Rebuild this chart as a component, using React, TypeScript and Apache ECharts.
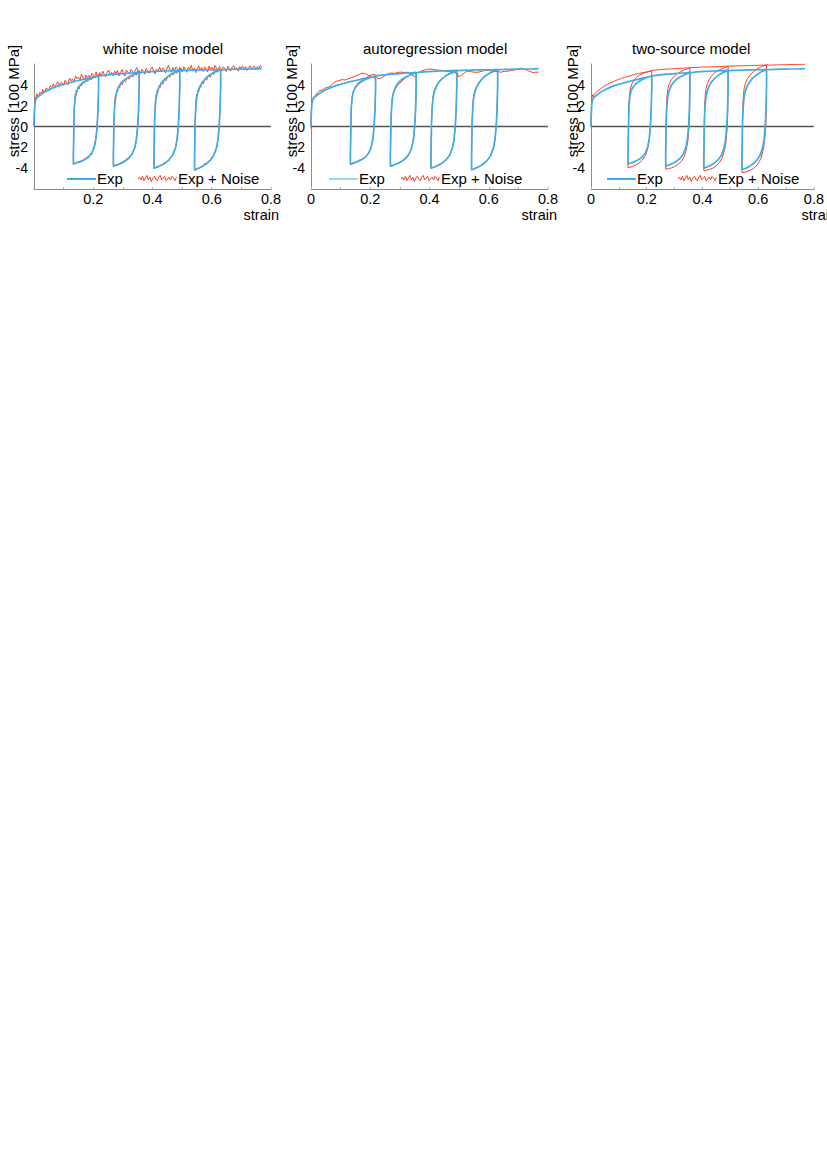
import React, { useEffect, useRef } from 'react';
import * as echarts from 'echarts';

// ---------- texts ----------
const TITLES = ['white noise model', 'autoregression model', 'two-source model'];
const Y_NAME = 'stress [100 MPa]';
const X_NAME = 'strain';
const LEGEND_EXP = 'Exp';
const LEGEND_NOISE = 'Exp + Noise';

// ---------- experimental curve (strain, stress [100 MPa]) ----------
const EXP: number[][] = [
  [0, 0], [0.001, 1.2], [0.003, 2.2], [0.006, 2.6], [0.012, 2.82], [0.02, 3.0], [0.035, 3.3], [0.05, 3.52],
  [0.07, 3.78], [0.09, 3.97], [0.11, 4.13], [0.13, 4.28], [0.15, 4.42], [0.17, 4.55], [0.19, 4.67], [0.205, 4.76], [0.218, 4.84],
  [0.218, 3.6], [0.216, 1.6], [0.213, 0.0], [0.209, -1.2], [0.203, -2.0], [0.195, -2.55], [0.183, -2.95], [0.17, -3.2],
  [0.157, -3.37], [0.145, -3.48], [0.136, -3.56], [0.133, -3.6],
  [0.133, -2.6], [0.134, -1.0], [0.135, 0.6], [0.136, 1.8], [0.139, 2.8], [0.143, 3.35], [0.15, 3.75], [0.16, 4.08],
  [0.173, 4.35], [0.188, 4.57], [0.203, 4.73], [0.218, 4.86],
  [0.24, 4.94], [0.265, 5.01], [0.29, 5.06], [0.315, 5.11], [0.34, 5.16], [0.355, 5.19],
  [0.355, 3.7], [0.353, 1.6], [0.35, 0.0], [0.346, -1.2], [0.34, -2.05], [0.331, -2.65], [0.319, -3.07], [0.306, -3.35],
  [0.293, -3.54], [0.281, -3.68], [0.272, -3.76], [0.268, -3.8],
  [0.268, -2.7], [0.269, -1.0], [0.27, 0.6], [0.272, 1.8], [0.275, 2.75], [0.28, 3.4], [0.287, 3.88], [0.296, 4.25],
  [0.308, 4.55], [0.322, 4.8], [0.338, 5.0], [0.355, 5.16],
  [0.38, 5.24], [0.41, 5.29], [0.44, 5.33], [0.47, 5.36], [0.492, 5.38],
  [0.492, 3.8], [0.49, 1.6], [0.487, 0.0], [0.483, -1.25], [0.477, -2.1], [0.468, -2.75], [0.456, -3.2], [0.443, -3.5],
  [0.43, -3.72], [0.418, -3.87], [0.409, -3.96], [0.405, -4.0],
  [0.405, -2.8], [0.406, -1.0], [0.407, 0.6], [0.409, 1.8], [0.412, 2.75], [0.417, 3.4], [0.424, 3.9], [0.433, 4.3],
  [0.445, 4.65], [0.459, 4.95], [0.475, 5.2], [0.492, 5.36],
  [0.51, 5.39], [0.54, 5.41], [0.57, 5.43], [0.6, 5.45], [0.63, 5.47],
  [0.63, 3.8], [0.628, 1.6], [0.625, 0.0], [0.621, -1.3], [0.615, -2.15], [0.606, -2.8], [0.594, -3.28], [0.581, -3.6],
  [0.568, -3.83], [0.556, -4.0], [0.547, -4.1], [0.542, -4.15],
  [0.542, -2.9], [0.543, -1.0], [0.544, 0.6], [0.546, 1.8], [0.549, 2.75], [0.554, 3.4], [0.561, 3.9], [0.57, 4.3],
  [0.582, 4.7], [0.596, 5.0], [0.612, 5.27], [0.63, 5.45],
  [0.66, 5.48], [0.69, 5.5], [0.72, 5.52], [0.75, 5.54], [0.768, 5.56],
];

// ---------- Exp + white noise ----------
const NOISE_WHITE: number[][] = [
  [0, 0], [0.002, 1.9], [0.004, 2.8], [0.007, 2.8], [0.01, 3.15], [0.015, 2.85], [0.02, 3.3], [0.025, 3.15], [0.03, 3.55],
  [0.035, 3.2], [0.04, 3.65], [0.045, 3.63], [0.05, 3.4], [0.055, 3.92], [0.06, 3.78], [0.065, 4.09], [0.07, 3.75],
  [0.075, 4.05], [0.08, 4.29], [0.085, 3.93], [0.09, 4.22], [0.095, 4.16], [0.1, 3.95], [0.105, 4.44], [0.11, 4.23],
  [0.115, 4.02], [0.12, 4.65], [0.125, 4.39], [0.13, 4.57], [0.135, 4.26], [0.14, 4.84], [0.145, 4.57], [0.15, 4.75],
  [0.155, 4.43], [0.16, 5.01], [0.165, 4.74], [0.17, 4.47], [0.175, 4.95], [0.18, 4.68], [0.185, 4.91], [0.19, 4.53],
  [0.195, 5.11], [0.2, 4.93], [0.205, 4.86], [0.21, 5.24], [0.215, 4.77], [0.218, 5.04],
  [0.218, 3.6], [0.216, 1.6], [0.213, 0.0], [0.209, -1.1], [0.205, -1.8], [0.202, -2.1], [0.198, -2.3], [0.194, -2.7],
  [0.19, -2.6], [0.186, -2.95], [0.182, -2.85], [0.178, -3.1], [0.172, -3.05], [0.166, -3.3], [0.16, -3.25], [0.154, -3.45],
  [0.148, -3.35], [0.142, -3.55], [0.137, -3.5], [0.133, -3.65],
  [0.133, -2.6], [0.134, -1.0], [0.135, 0.6], [0.136, 1.8], [0.138, 2.6], [0.139, 3.1], [0.141, 2.9], [0.143, 3.5],
  [0.146, 3.3], [0.149, 3.85], [0.152, 3.6], [0.156, 4.05], [0.16, 3.9], [0.165, 4.3], [0.17, 4.15], [0.176, 4.5],
  [0.182, 4.35], [0.188, 4.7], [0.194, 4.5], [0.2, 4.85], [0.206, 4.65], [0.212, 4.95], [0.218, 4.8],
  [0.222, 5.18], [0.227, 4.8], [0.232, 5.32], [0.237, 5.03], [0.242, 4.75], [0.247, 5.21], [0.252, 5.42], [0.257, 4.94],
  [0.262, 5.2], [0.267, 4.86], [0.272, 5.32], [0.277, 5.08], [0.282, 5.39], [0.287, 4.85], [0.292, 5.21], [0.297, 5.47],
  [0.302, 5.08], [0.307, 4.84], [0.312, 5.4], [0.317, 5.21], [0.322, 5.02], [0.327, 5.48], [0.332, 5.29], [0.337, 5.0],
  [0.342, 5.41], [0.347, 5.67], [0.352, 5.23], [0.355, 5.39],
  [0.355, 3.7], [0.353, 1.6], [0.35, 0.0], [0.346, -1.1], [0.342, -1.9], [0.338, -2.2], [0.334, -2.45], [0.33, -2.75],
  [0.325, -2.8], [0.32, -3.1], [0.314, -3.05], [0.308, -3.35], [0.302, -3.3], [0.296, -3.55], [0.29, -3.5], [0.284, -3.7],
  [0.278, -3.65], [0.273, -3.8], [0.268, -3.85],
  [0.268, -2.7], [0.269, -1.0], [0.27, 0.6], [0.272, 1.8], [0.273, 2.6], [0.275, 3.0], [0.277, 2.85], [0.279, 3.45],
  [0.282, 3.3], [0.285, 3.85], [0.289, 3.7], [0.293, 4.2], [0.298, 4.0], [0.303, 4.45], [0.309, 4.3], [0.315, 4.7],
  [0.321, 4.55], [0.327, 4.95], [0.333, 4.75], [0.339, 5.1], [0.345, 4.9], [0.35, 5.3], [0.355, 5.1],
  [0.359, 5.1], [0.364, 5.51], [0.369, 5.27], [0.374, 5.03], [0.379, 5.59], [0.384, 5.35], [0.389, 5.11], [0.394, 5.51],
  [0.399, 5.72], [0.404, 5.28], [0.409, 5.04], [0.414, 5.5], [0.419, 5.35], [0.424, 5.71], [0.429, 5.22], [0.434, 5.63],
  [0.439, 5.48], [0.444, 5.14], [0.449, 5.59], [0.454, 5.9], [0.459, 5.45], [0.464, 5.21], [0.469, 5.66], [0.474, 5.32],
  [0.479, 5.72], [0.484, 5.58], [0.489, 5.28], [0.492, 5.68],
  [0.492, 3.8], [0.49, 1.6], [0.487, 0.0], [0.483, -1.15], [0.479, -1.95], [0.475, -2.3], [0.471, -2.55], [0.466, -2.85],
  [0.461, -2.95], [0.456, -3.25], [0.45, -3.3], [0.444, -3.55], [0.438, -3.5], [0.432, -3.75], [0.426, -3.7], [0.42, -3.9],
  [0.414, -3.85], [0.409, -4.0], [0.405, -4.05],
  [0.405, -2.8], [0.406, -1.0], [0.407, 0.6], [0.409, 1.8], [0.41, 2.6], [0.412, 3.05], [0.414, 2.9], [0.416, 3.5],
  [0.419, 3.35], [0.422, 3.9], [0.426, 3.75], [0.43, 4.25], [0.435, 4.05], [0.44, 4.55], [0.446, 4.4], [0.452, 4.85],
  [0.458, 4.7], [0.464, 5.1], [0.47, 4.95], [0.476, 5.3], [0.482, 5.1], [0.487, 5.45], [0.492, 5.3],
  [0.496, 5.59], [0.501, 5.24], [0.506, 5.74], [0.511, 5.45], [0.516, 5.2], [0.521, 5.7], [0.526, 5.51], [0.531, 5.86],
  [0.536, 5.31], [0.541, 5.61], [0.546, 5.17], [0.551, 5.57], [0.556, 5.82], [0.561, 5.43], [0.566, 5.68], [0.571, 5.28],
  [0.576, 5.74], [0.581, 5.54], [0.586, 5.24], [0.591, 5.8], [0.596, 5.5], [0.601, 5.7], [0.606, 5.35], [0.611, 5.86],
  [0.616, 5.61], [0.621, 5.31], [0.626, 5.77], [0.63, 5.57],
  [0.63, 3.8], [0.628, 1.6], [0.625, 0.0], [0.621, -1.2], [0.617, -2.0], [0.613, -2.35], [0.609, -2.6], [0.604, -2.9],
  [0.599, -3.0], [0.594, -3.3], [0.588, -3.35], [0.582, -3.6], [0.576, -3.55], [0.57, -3.85], [0.564, -3.8], [0.558, -4.05],
  [0.552, -4.0], [0.547, -4.2], [0.542, -4.2],
  [0.542, -2.9], [0.543, -1.0], [0.544, 0.6], [0.546, 1.8], [0.547, 2.6], [0.549, 3.1], [0.551, 2.95], [0.553, 3.5],
  [0.556, 3.35], [0.559, 3.9], [0.563, 3.75], [0.567, 4.3], [0.572, 4.1], [0.577, 4.6], [0.583, 4.45], [0.589, 4.9],
  [0.595, 4.75], [0.601, 5.15], [0.607, 5.0], [0.613, 5.35], [0.619, 5.2], [0.625, 5.55], [0.63, 5.4],
  [0.634, 5.37], [0.639, 5.73], [0.644, 5.53], [0.649, 5.28], [0.654, 5.79], [0.659, 5.59], [0.664, 5.34], [0.669, 5.7],
  [0.674, 5.85], [0.679, 5.45], [0.684, 5.66], [0.689, 5.31], [0.694, 5.76], [0.699, 5.57], [0.704, 5.82], [0.709, 5.42],
  [0.714, 5.73], [0.719, 5.38], [0.724, 5.63], [0.729, 5.84], [0.734, 5.49], [0.739, 5.69], [0.744, 5.8], [0.749, 5.45],
  [0.754, 5.75], [0.759, 5.55], [0.764, 5.86], [0.768, 5.66],
];

// ---------- Exp + autoregressive noise ----------
const NOISE_AR: number[][] = [
  [0, -0.2], [0.001, 1.5], [0.003, 2.6], [0.008, 2.75], [0.015, 3.0], [0.022, 3.25], [0.03, 3.45], [0.038, 3.5],
  [0.045, 3.62], [0.052, 3.75], [0.06, 3.78], [0.068, 3.95], [0.076, 4.2], [0.085, 4.35], [0.094, 4.4], [0.104, 4.5],
  [0.114, 4.47], [0.124, 4.55], [0.133, 4.65], [0.142, 4.75], [0.151, 4.85], [0.16, 4.98], [0.168, 5.08], [0.176, 5.12],
  [0.184, 5.06], [0.192, 4.95], [0.2, 4.85], [0.207, 4.75], [0.213, 4.65], [0.218, 4.6],
  [0.218, 3.6], [0.216, 1.6], [0.213, 0.0], [0.209, -1.2], [0.203, -2.0], [0.196, -2.45], [0.188, -2.8], [0.18, -3.05],
  [0.172, -3.15], [0.164, -3.22], [0.156, -3.35], [0.148, -3.5], [0.14, -3.6], [0.133, -3.65],
  [0.133, -2.6], [0.134, -1.0], [0.135, 0.6], [0.136, 1.8], [0.139, 2.8], [0.143, 3.4], [0.15, 3.85], [0.158, 4.15],
  [0.167, 4.35], [0.177, 4.5], [0.188, 4.7], [0.198, 4.9], [0.208, 5.0], [0.218, 4.95],
  [0.225, 4.62], [0.232, 4.6], [0.24, 4.7], [0.248, 4.85], [0.256, 5.0], [0.264, 5.1], [0.272, 5.14], [0.28, 5.1],
  [0.288, 5.15], [0.296, 5.2], [0.305, 5.22], [0.314, 5.18], [0.322, 5.22], [0.33, 5.15], [0.338, 5.0], [0.345, 4.85],
  [0.35, 4.8], [0.355, 4.9],
  [0.355, 3.7], [0.353, 1.6], [0.35, 0.0], [0.346, -1.2], [0.34, -2.0], [0.333, -2.55], [0.325, -2.95], [0.316, -3.15],
  [0.307, -3.3], [0.298, -3.45], [0.289, -3.6], [0.28, -3.72], [0.273, -3.8], [0.268, -3.85],
  [0.268, -2.7], [0.269, -1.0], [0.27, 0.6], [0.272, 1.8], [0.274, 2.7], [0.278, 3.25], [0.284, 3.6], [0.291, 3.9],
  [0.3, 4.15], [0.31, 4.45], [0.32, 4.7], [0.331, 4.9], [0.343, 5.05], [0.355, 5.15],
  [0.362, 5.2], [0.37, 5.3], [0.378, 5.38], [0.386, 5.45], [0.394, 5.5], [0.402, 5.52], [0.41, 5.5], [0.418, 5.45],
  [0.426, 5.42], [0.434, 5.4], [0.442, 5.38], [0.45, 5.32], [0.458, 5.3], [0.466, 5.28], [0.474, 5.3], [0.482, 5.28],
  [0.488, 5.15], [0.492, 5.0],
  [0.492, 3.8], [0.49, 1.6], [0.487, 0.0], [0.483, -1.25], [0.477, -2.1], [0.469, -2.7], [0.46, -3.1], [0.451, -3.35],
  [0.442, -3.55], [0.433, -3.7], [0.424, -3.82], [0.415, -3.92], [0.409, -3.97], [0.405, -4.02],
  [0.405, -2.8], [0.406, -1.0], [0.407, 0.6], [0.409, 1.8], [0.411, 2.75], [0.415, 3.35], [0.421, 3.8], [0.429, 4.2],
  [0.439, 4.5], [0.45, 4.75], [0.462, 4.95], [0.474, 5.1], [0.484, 5.2], [0.492, 5.25],
  [0.498, 4.8], [0.504, 4.85], [0.51, 4.98], [0.518, 5.15], [0.526, 5.3], [0.534, 5.3], [0.542, 5.25], [0.55, 5.22],
  [0.56, 5.2], [0.57, 5.25], [0.58, 5.32], [0.59, 5.4], [0.6, 5.38], [0.61, 5.33], [0.62, 5.3], [0.63, 5.25],
  [0.63, 3.8], [0.628, 1.6], [0.625, 0.0], [0.621, -1.3], [0.615, -2.15], [0.607, -2.75], [0.598, -3.15], [0.589, -3.45],
  [0.58, -3.65], [0.571, -3.8], [0.562, -3.92], [0.553, -4.05], [0.547, -4.12], [0.542, -4.18],
  [0.542, -2.9], [0.543, -1.0], [0.544, 0.6], [0.546, 1.8], [0.548, 2.75], [0.552, 3.35], [0.558, 3.8], [0.566, 4.2],
  [0.576, 4.55], [0.587, 4.85], [0.599, 5.05], [0.611, 5.2], [0.621, 5.3], [0.63, 5.35],
  [0.638, 5.2], [0.646, 5.25], [0.654, 5.3], [0.662, 5.3], [0.67, 5.35], [0.678, 5.4], [0.686, 5.42], [0.694, 5.48],
  [0.702, 5.55], [0.71, 5.6], [0.718, 5.5], [0.726, 5.45], [0.734, 5.35], [0.742, 5.25], [0.75, 5.18], [0.758, 5.2],
  [0.768, 5.22],
];

// ---------- Exp + two-source noise ----------
const NOISE_TWO: number[][] = [
  [0, 0], [0.002, 2.4], [0.004, 3.05], [0.007, 2.85], [0.011, 3.1], [0.015, 3.2], [0.02, 3.3], [0.025, 3.45], [0.03, 3.55],
  [0.035, 3.62], [0.04, 3.75], [0.045, 3.8], [0.05, 3.92], [0.055, 3.98], [0.06, 4.06], [0.065, 4.1], [0.07, 4.2],
  [0.075, 4.24], [0.08, 4.32], [0.085, 4.35], [0.09, 4.44], [0.095, 4.47], [0.1, 4.54], [0.105, 4.56], [0.11, 4.63],
  [0.115, 4.66], [0.12, 4.72], [0.125, 4.74], [0.13, 4.8], [0.135, 4.82], [0.14, 4.88], [0.145, 4.9], [0.15, 4.96],
  [0.155, 4.98], [0.16, 5.03], [0.165, 5.05], [0.17, 5.1], [0.175, 5.1], [0.18, 5.15], [0.185, 5.17], [0.19, 5.2],
  [0.195, 5.21], [0.2, 5.25], [0.205, 5.26], [0.21, 5.29], [0.215, 5.3], [0.218, 5.32],
  [0.218, 4.9], [0.218, 3.6], [0.216, 1.6], [0.213, 0.0], [0.209, -1.3], [0.203, -2.2], [0.195, -2.8], [0.185, -3.2],
  [0.173, -3.5], [0.161, -3.7], [0.15, -3.82], [0.14, -3.9], [0.133, -3.95],
  [0.133, -2.8], [0.134, -1.0], [0.135, 0.8], [0.136, 2.1], [0.138, 3.0], [0.141, 3.6], [0.146, 4.05], [0.153, 4.4],
  [0.162, 4.7], [0.173, 4.92], [0.186, 5.1], [0.2, 5.22], [0.212, 5.32], [0.218, 5.4],
  [0.222, 5.38], [0.228, 5.42], [0.234, 5.4], [0.24, 5.45], [0.247, 5.44], [0.254, 5.48], [0.261, 5.47], [0.268, 5.51],
  [0.275, 5.5], [0.282, 5.53], [0.289, 5.52], [0.296, 5.56], [0.303, 5.55], [0.31, 5.58], [0.317, 5.57], [0.324, 5.6],
  [0.331, 5.59], [0.338, 5.62], [0.345, 5.61], [0.351, 5.64], [0.355, 5.63],
  [0.355, 4.0], [0.354, 1.8], [0.352, 0.0], [0.348, -1.3], [0.342, -2.25], [0.334, -2.9], [0.324, -3.35], [0.312, -3.65],
  [0.3, -3.85], [0.289, -3.97], [0.278, -4.05], [0.268, -4.1],
  [0.268, -3.0], [0.269, -1.0], [0.27, 0.8], [0.271, 2.1], [0.273, 3.0], [0.276, 3.65], [0.281, 4.1], [0.288, 4.5],
  [0.297, 4.8], [0.308, 5.05], [0.321, 5.25], [0.335, 5.42], [0.347, 5.55], [0.355, 5.65],
  [0.362, 5.66], [0.369, 5.65], [0.376, 5.68], [0.383, 5.67], [0.39, 5.7], [0.397, 5.69], [0.404, 5.71], [0.411, 5.7],
  [0.418, 5.73], [0.425, 5.72], [0.432, 5.74], [0.439, 5.73], [0.446, 5.75], [0.453, 5.74], [0.46, 5.77], [0.467, 5.75],
  [0.474, 5.78], [0.481, 5.77], [0.488, 5.79], [0.492, 5.78],
  [0.492, 4.1], [0.491, 1.8], [0.489, 0.0], [0.485, -1.35], [0.479, -2.3], [0.471, -3.0], [0.461, -3.45], [0.449, -3.8],
  [0.437, -4.0], [0.425, -4.12], [0.414, -4.2], [0.405, -4.25],
  [0.405, -3.1], [0.406, -1.0], [0.407, 0.8], [0.408, 2.1], [0.41, 3.0], [0.413, 3.65], [0.418, 4.15], [0.425, 4.55],
  [0.434, 4.9], [0.445, 5.18], [0.458, 5.4], [0.472, 5.58], [0.484, 5.7], [0.492, 5.8],
  [0.499, 5.8], [0.506, 5.79], [0.513, 5.82], [0.52, 5.81], [0.527, 5.83], [0.534, 5.82], [0.541, 5.84], [0.548, 5.83],
  [0.555, 5.85], [0.562, 5.84], [0.569, 5.86], [0.576, 5.85], [0.583, 5.87], [0.59, 5.86], [0.597, 5.88], [0.604, 5.87],
  [0.611, 5.89], [0.618, 5.88], [0.625, 5.9], [0.63, 5.89],
  [0.63, 4.2], [0.629, 1.8], [0.627, 0.0], [0.623, -1.4], [0.617, -2.4], [0.609, -3.1], [0.599, -3.6], [0.587, -3.95],
  [0.575, -4.15], [0.563, -4.3], [0.552, -4.38], [0.542, -4.42],
  [0.542, -3.2], [0.543, -1.0], [0.544, 0.8], [0.545, 2.1], [0.547, 3.0], [0.55, 3.7], [0.555, 4.2], [0.562, 4.6],
  [0.571, 4.95], [0.582, 5.25], [0.595, 5.5], [0.609, 5.7], [0.621, 5.85], [0.63, 5.93],
  [0.637, 5.9], [0.644, 5.89], [0.651, 5.91], [0.658, 5.9], [0.665, 5.92], [0.672, 5.91], [0.679, 5.93], [0.686, 5.92],
  [0.693, 5.93], [0.7, 5.92], [0.707, 5.94], [0.714, 5.93], [0.721, 5.95], [0.728, 5.94], [0.735, 5.96], [0.742, 5.95],
  [0.749, 5.97], [0.756, 5.96], [0.763, 5.98], [0.768, 5.97],
];

const NOISE_SERIES = [NOISE_WHITE, NOISE_AR, NOISE_TWO];

// ---------- layout / style ----------
const BLUE = '#3CAEE6';
const RED = '#FF3D22';
const FONT = 'Liberation Sans, Arial, Helvetica, sans-serif';
const GRID_LEFT = [34, 311, 591];
const GRID_TOP = 64;
const GRID_W = 237;
const GRID_H = 125;
const TITLE_LEFT = [103, 363, 632];
const YNAME_X = [13, 291, 572];
const XNAME_RIGHT = [279, 557, 837];
const LEG_BLUE_X = [67, 329, 607];
const LEG_RED_X = [138, 401, 678];
const LEG_BLUE_W = [2, 1, 2];
// squiggle shape for the legend sample of the noisy curve (pixel offsets)
const SQUIGGLE_DY = [0, -2, 1, -3, 2, -1, -4, 1, -2, 3, -1, -3, 0, 2, -2, -4, 1, -1, -3, 2, 0, -2, 1, -3, -1, 2, -2];

export default function App() {
  const ref = useRef<HTMLDivElement>(null);
  useEffect(() => {
    if (!ref.current) return;
    const chart = echarts.init(ref.current, null, { renderer: 'svg' });

    const grids: any[] = [];
    const xAxes: any[] = [];
    const yAxes: any[] = [];
    const series: any[] = [];
    const titles: any[] = [];
    const graphics: any[] = [];

    for (let i = 0; i < 3; i++) {
      grids.push({ left: GRID_LEFT[i], top: GRID_TOP, width: GRID_W, height: GRID_H, containLabel: false });
      xAxes.push({
        type: 'value', gridIndex: i, min: 0, max: 0.8, interval: 0.1,
        axisLine: { show: true, onZero: false, lineStyle: { color: '#8c8c8c', width: 1 } },
        axisTick: { show: true, inside: true, length: 2, lineStyle: { color: '#bbbbbb' } },
        splitLine: { show: false },
        axisLabel: {
          margin: 4, fontSize: 14.5, lineHeight: 12, color: '#000', fontFamily: FONT, showMinLabel: i !== 0,
          formatter: (v: number) => {
            const t = Math.round(v * 10);
            if (t % 2 !== 0) return '';
            if (i === 0 && t === 0) return '';
            return String(t / 10);
          },
        },
      });
      yAxes.push({
        type: 'value', gridIndex: i, min: -6, max: 6, interval: 2,
        axisLine: { show: true, onZero: false, lineStyle: { color: '#8c8c8c', width: 1 } },
        axisTick: { show: false },
        splitLine: { show: false },
        axisLabel: {
          margin: 6, fontSize: 14, color: '#000', fontFamily: FONT,
          formatter: (v: number) => (Math.abs(v) >= 6 ? '' : String(v)),
        },
      });
      series.push({
        type: 'line', name: LEGEND_NOISE, xAxisIndex: i, yAxisIndex: i, data: NOISE_SERIES[i],
        showSymbol: false, symbol: 'none', smooth: false, z: 2,
        lineStyle: { color: RED, width: 1 },
        markLine: {
          silent: true, symbol: 'none', z: 1, label: { show: false },
          lineStyle: { color: '#555555', width: 1.3, type: 'solid' },
          data: [{ yAxis: 0 }],
        },
      });
      series.push({
        type: 'line', name: LEGEND_EXP, xAxisIndex: i, yAxisIndex: i, data: EXP,
        showSymbol: false, symbol: 'none', smooth: false, z: 3,
        lineStyle: { color: BLUE, width: 1.7 },
      });
      titles.push({
        text: TITLES[i], left: TITLE_LEFT[i], top: 41, padding: 0,
        textStyle: { fontSize: 15, fontWeight: 'normal', color: '#000', fontFamily: FONT },
      });
      // y axis name
      graphics.push({
        type: 'text', x: YNAME_X[i], y: 101, rotation: Math.PI / 2,
        style: { text: Y_NAME, font: `15px ${FONT}`, fill: '#000', textAlign: 'center', textVerticalAlign: 'middle' },
      });
      // x axis name
      graphics.push({
        type: 'text', x: XNAME_RIGHT[i], y: 214.5,
        style: { text: X_NAME, font: `14.5px ${FONT}`, lineHeight: 11, fill: '#000', textAlign: 'right', textVerticalAlign: 'middle' },
      });
      // legend: Exp
      graphics.push({
        type: 'line', shape: { x1: LEG_BLUE_X[i], y1: 179, x2: LEG_BLUE_X[i] + 29, y2: 179 },
        style: { stroke: BLUE, lineWidth: LEG_BLUE_W[i] },
      });
      graphics.push({
        type: 'text', x: LEG_BLUE_X[i] + 30, y: 178,
        style: { text: LEGEND_EXP, font: `15px ${FONT}`, fill: '#000', textAlign: 'left', textVerticalAlign: 'middle' },
      });
      // legend: Exp + Noise
      const pts = SQUIGGLE_DY.map((dy, k) => [LEG_RED_X[i] + k * 1.48, 179 + dy * 0.9]);
      graphics.push({
        type: 'polyline', shape: { points: pts },
        style: { stroke: RED, lineWidth: 1, fill: 'none' },
      });
      graphics.push({
        type: 'text', x: LEG_RED_X[i] + 40, y: 178,
        style: { text: LEGEND_NOISE, font: `15px ${FONT}`, fill: '#000', textAlign: 'left', textVerticalAlign: 'middle' },
      });
    }

    chart.setOption({
      animation: false,
      backgroundColor: '#ffffff',
      title: titles,
      grid: grids,
      xAxis: xAxes,
      yAxis: yAxes,
      series,
      graphic: graphics,
    });
    return () => chart.dispose();
  }, []);

  return (
    <div
      ref={ref}
      style={{ position: 'absolute', left: 0, top: 0, width: 827, height: 1168, background: '#fff' }}
    />
  );
}
